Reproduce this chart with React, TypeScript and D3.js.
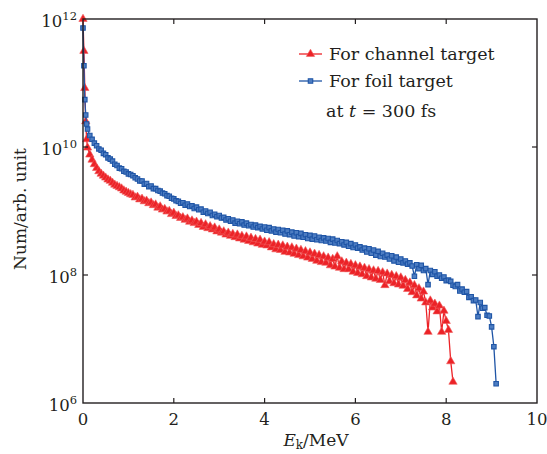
import * as d3 from "d3";

// energy grid (MeV): fine near zero, then 0.05 MeV bins
const energyHead = [0, 0.02, 0.04, 0.06, 0.08];
const energyBins = d3.range(0, 181).map((i) => +(0.1 + i * 0.05).toFixed(2));
const energies = [...energyHead, ...energyBins];

// log10(Num) for the foil target
const foilLog = [
  11.86, 11.27, 10.74, 10.5, 10.36,
  10.28, 10.18, 10.12, 10.06, 10.02, 9.97, 9.95, 9.9, 9.88, 9.83, 9.81, 9.78, 9.73, 9.71, 9.67, 9.66, 9.62, 9.61, 9.58, 9.57,
  9.55, 9.52, 9.5, 9.47, 9.47, 9.42, 9.43, 9.38, 9.39, 9.35, 9.35, 9.32, 9.31, 9.28, 9.27, 9.24, 9.23, 9.2, 9.19, 9.16,
  9.15, 9.12, 9.13, 9.09, 9.11, 9.07, 9.08, 9.04, 9.06, 9.02, 9.03, 8.98, 9.0, 8.96, 8.98, 8.93, 8.95, 8.91, 8.93, 8.89,
  8.9, 8.86, 8.88, 8.84, 8.86, 8.81, 8.84, 8.8, 8.83, 8.78, 8.81, 8.77, 8.79, 8.75, 8.78, 8.74, 8.76, 8.72, 8.75, 8.7,
  8.74, 8.69, 8.72, 8.67, 8.71, 8.66, 8.7, 8.64, 8.69, 8.63, 8.67, 8.61, 8.66, 8.6, 8.65, 8.59, 8.63, 8.57, 8.62, 8.56,
  8.61, 8.55, 8.59, 8.54, 8.58, 8.53, 8.57, 8.51, 8.56, 8.5, 8.54, 8.49, 8.52, 8.47, 8.51, 8.45, 8.49, 8.43, 8.47, 8.42,
  8.44, 8.39, 8.42, 8.36, 8.41, 8.34, 8.39, 8.31, 8.37, 8.29, 8.34, 8.28, 8.31, 8.25, 8.3, 8.22, 8.28, 8.2, 8.25, 8.19,
  8.22, 8.17, 8.19, 8.14, 7.98, 8.16, 8.1, 8.15, 8.07, 8.1, 7.85, 8.07, 8.01, 8.05, 7.98, 8.0, 7.95, 7.97, 7.91, 7.92,
  7.9, 7.84, 7.82, 7.85, 7.75, 7.78, 7.73, 7.74, 7.65, 7.66, 7.6, 7.61, 7.35, 7.57, 7.48, 7.49, 7.37, 7.36, 7.19, 6.88,
  6.3,
];

// log10(Num) for the channel target
const channelLog = [
  12.0, 11.5, 10.92, 10.4, 10.12,
  9.99, 9.88, 9.8, 9.73, 9.67, 9.62, 9.58, 9.55, 9.52, 9.49, 9.47, 9.44, 9.41, 9.39, 9.37, 9.35, 9.32, 9.3, 9.28, 9.26,
  9.25, 9.21, 9.22, 9.18, 9.19, 9.15, 9.16, 9.12, 9.13, 9.09, 9.1, 9.05, 9.07, 9.02, 9.03, 8.99, 9.0, 8.95, 8.97, 8.92,
  8.93, 8.89, 8.9, 8.86, 8.88, 8.83, 8.85, 8.81, 8.83, 8.78, 8.81, 8.75, 8.79, 8.73, 8.76, 8.71, 8.74, 8.68, 8.71, 8.66,
  8.68, 8.63, 8.66, 8.61, 8.64, 8.59, 8.63, 8.57, 8.61, 8.55, 8.6, 8.53, 8.58, 8.51, 8.56, 8.49, 8.55, 8.47, 8.52, 8.46,
  8.51, 8.43, 8.48, 8.4, 8.47, 8.39, 8.46, 8.36, 8.44, 8.35, 8.43, 8.33, 8.41, 8.31, 8.39, 8.29, 8.37, 8.27, 8.35, 8.25,
  8.33, 8.22, 8.31, 8.2, 8.29, 8.19, 8.27, 8.15, 8.25, 8.13, 8.29, 8.11, 8.21, 8.09, 8.19, 8.09, 8.17, 8.05, 8.15, 8.03,
  8.13, 8.01, 8.11, 7.98, 8.09, 7.96, 8.07, 7.94, 8.06, 7.92, 8.04, 7.84, 8.02, 7.9, 8.0, 7.87, 7.98, 7.85, 7.96, 7.83,
  7.92, 7.78, 7.88, 7.73, 7.84, 7.68, 7.79, 7.63, 7.74, 7.57, 7.11, 7.6, 7.49, 7.55, 7.43, 7.52, 7.11, 7.44, 7.28, 7.14,
  6.65, 6.33,
];

const xTicks = [0, 2, 4, 6, 8, 10];
const yTicks = [6, 8, 10, 12];

const W = 547;
const H = 454;
const left = 83;
const right = 537;
const top = 19;
const bottom = 403;

const RED = "#ec2227";
const BLUE = "#1f55a6";
const BLUE_FILL = "#4d7dc2";
const INK = "#231f20";
const FONT = "'DejaVu Serif', serif";

type Pt = [number, number];

const App = () => {
  const x = d3.scaleLinear().domain([0, 10]).range([left, right]);
  const y = d3.scaleLog().domain([1e6, 1e12]).range([bottom, top]);

  const channel: Pt[] = channelLog.map((v, i) => [energies[i], Math.pow(10, v)]);
  const foil: Pt[] = foilLog.map((v, i) => [energies[i], Math.pow(10, v)]);

  const line = d3
    .line<Pt>()
    .x((d) => x(d[0]))
    .y((d) => y(d[1]));

  const tri = d3.symbol().type(d3.symbolTriangle).size(30)() as string;
  const sq = d3.symbol().type(d3.symbolSquare).size(20)() as string;

  return (
    <svg width={W} height={H} style={{ position: "absolute", left: 0, top: 0 }}>
      <rect width={W} height={H} fill="#fff" />

      {/* channel target */}
      <path d={line(channel) ?? ""} fill="none" stroke={RED} strokeWidth={1.3} />
      {channel.map((d, i) => (
        <path
          key={"c" + i}
          d={tri}
          transform={`translate(${x(d[0])},${y(d[1])})`}
          fill={RED}
          stroke="#f05a5a"
          strokeWidth={0.6}
        />
      ))}

      {/* foil target */}
      <path d={line(foil) ?? ""} fill="none" stroke={BLUE} strokeWidth={1.3} />
      {foil.map((d, i) => (
        <path
          key={"f" + i}
          d={sq}
          transform={`translate(${x(d[0])},${y(d[1])})`}
          fill={BLUE_FILL}
          stroke={BLUE}
          strokeWidth={1.1}
        />
      ))}

      {/* frame */}
      <rect
        x={left}
        y={top}
        width={right - left}
        height={bottom - top}
        fill="none"
        stroke={INK}
        strokeWidth={1.4}
      />

      {xTicks.map((t) => (
        <g key={"x" + t}>
          {t > 0 && t < 10 && (
            <>
              <line x1={x(t)} x2={x(t)} y1={bottom} y2={bottom - 5} stroke={INK} strokeWidth={1.2} />
              <line x1={x(t)} x2={x(t)} y1={top} y2={top + 5} stroke={INK} strokeWidth={1.2} />
            </>
          )}
          <text x={x(t)} y={425} textAnchor="middle" fontFamily={FONT} fontSize={16.5} fill={INK}>
            {t}
          </text>
        </g>
      ))}

      {yTicks.map((p) => {
        const yy = y(Math.pow(10, p));
        return (
          <g key={"y" + p}>
            {p > 6 && p < 12 && (
              <>
                <line x1={left} x2={left + 5} y1={yy} y2={yy} stroke={INK} strokeWidth={1.2} />
                <line x1={right} x2={right - 5} y1={yy} y2={yy} stroke={INK} strokeWidth={1.2} />
              </>
            )}
            <text x={77} y={yy + 7.5} textAnchor="end" fontFamily={FONT} fontSize={16.5} fill={INK}>
              10
              <tspan dy={-7} fontSize={11.5}>
                {p}
              </tspan>
            </text>
          </g>
        );
      })}

      {/* axis titles */}
      <text x={316} y={446} textAnchor="middle" fontFamily={FONT} fontSize={17} fill={INK}>
        <tspan fontStyle="italic">E</tspan>
        <tspan dy={3} fontSize={12}>
          k
        </tspan>
        <tspan dy={-3}>/MeV</tspan>
      </text>
      <text
        transform="translate(26,209) rotate(-90)"
        textAnchor="middle"
        fontFamily={FONT}
        fontSize={17}
        fill={INK}
      >
        Num/arb. unit
      </text>

      {/* legend */}
      <line x1={299} x2={322} y1={54} y2={54} stroke={RED} strokeWidth={1.3} />
      <path d={tri} transform="translate(310.5,54)" fill={RED} stroke="#f05a5a" strokeWidth={0.6} />
      <text x={329} y={59.5} fontFamily={FONT} fontSize={17.5} fill={INK}>
        For channel target
      </text>
      <line x1={299} x2={322} y1={81} y2={81} stroke={BLUE} strokeWidth={1.3} />
      <path d={sq} transform="translate(310.5,81)" fill={BLUE_FILL} stroke={BLUE} strokeWidth={1.1} />
      <text x={329} y={86.5} fontFamily={FONT} fontSize={17.5} fill={INK}>
        For foil target
      </text>
      <text x={326} y={117} fontFamily={FONT} fontSize={17.5} fill={INK}>
        at <tspan fontStyle="italic">t</tspan> = 300 fs
      </text>
    </svg>
  );
};

export default App;
